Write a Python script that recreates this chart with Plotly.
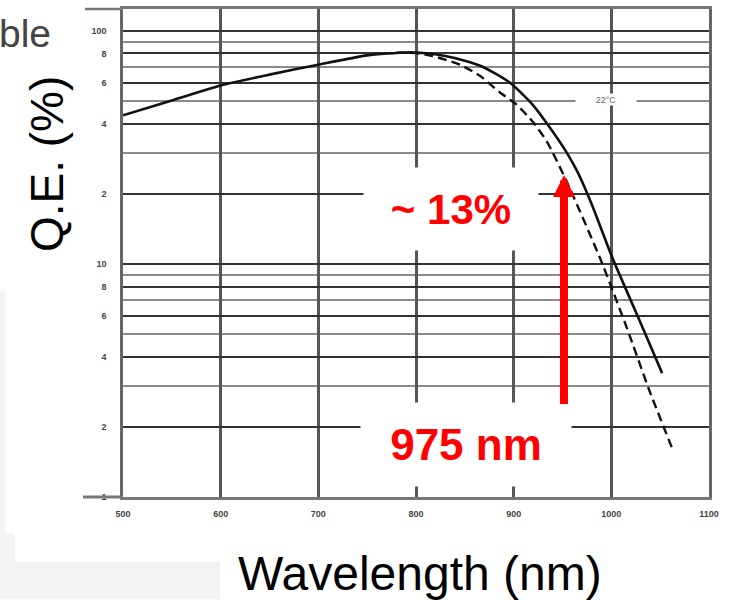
import plotly.graph_objects as go
import math

# ---- data ----
solid_nm = [500, 550, 600, 650, 700, 750, 790, 810, 830, 850, 865, 880, 896, 910, 920, 937, 954, 965, 980, 1000, 1011, 1029, 1052]
solid_qe = [43.4, 50.3, 58.3, 64.9, 71.6, 78.5, 80.8, 80.2, 78.0, 74.5, 71.0, 66.0, 60.0, 53.0, 47.9, 38.5, 30.2, 25.0, 18.0, 10.9, 8.5, 5.7, 3.4]

dashed_nm = [780, 800, 817, 845, 865, 886, 903, 920, 934, 953, 988, 1016, 1039, 1063]
dashed_qe = [80.5, 80.3, 78.0, 71.6, 64.3, 54.4, 48.3, 40.5, 33.5, 23.2, 10.7, 5.3, 2.86, 1.59]

x_ticks = [500, 600, 700, 800, 900, 1000, 1100]
y_major = [1, 2, 4, 6, 8, 10, 20, 40, 60, 80, 100]
y_major_text = ["1", "2", "4", "6", "8", "10", "2", "4", "6", "8", "100"]
y_minor = [3, 5, 7, 9, 30, 50, 70, 90]

arrow_nm = 951.5
arrow_tip_qe = 24.1
arrow_tail_qe = 2.47

# ---- layout geometry (pixels) ----
W, H = 740, 600
L, R, T, B = 123, 709, 6, 497
pw, ph = R - L, B - T


def px(x):
    return (x - L) / pw


def py(y):
    return (B - y) / ph


fig = go.Figure()
fig.add_trace(go.Scatter(x=solid_nm, y=solid_qe, mode="lines", line_shape="spline",
                         line=dict(color="#111", width=2.6, smoothing=0.6), showlegend=False))
fig.add_trace(go.Scatter(x=dashed_nm, y=dashed_qe, mode="lines", line_shape="spline",
                         line=dict(color="#111", width=2.4, dash="9px,5px", smoothing=0.6),
                         showlegend=False))

tick_font = dict(family="Liberation Sans", size=9, color="#444", weight="bold")

fig.update_xaxes(range=[500, 1100], tickvals=x_ticks, showgrid=True, gridcolor="#555",
                 gridwidth=2.5, showline=True, linecolor="#777", linewidth=3, mirror=True,
                 zeroline=False, ticks="", tickfont=tick_font, ticklabelstandoff=6)
fig.update_yaxes(type="log", range=[0, (B - T) / 234.5], tickvals=y_major, ticktext=y_major_text,
                 showgrid=True, gridcolor="#333", gridwidth=2, showline=True, linecolor="#666",
                 linewidth=2.5, mirror=True, zeroline=False, ticks="", tickfont=tick_font,
                 ticklabelstandoff=12,
                 minor=dict(tickvals=y_minor, showgrid=True, gridcolor="#8a8a8a", gridwidth=2))

shapes = [
    # grey page background pieces at lower left
    dict(type="rect", xref="paper", yref="paper", x0=px(0), x1=px(5), y0=py(533), y1=py(290),
         fillcolor="#f3f3f3", line_width=0, layer="below"),
    dict(type="rect", xref="paper", yref="paper", x0=px(0), x1=px(15), y0=py(562), y1=py(533),
         fillcolor="#f3f3f3", line_width=0, layer="below"),
    dict(type="rect", xref="paper", yref="paper", x0=px(0), x1=px(220), y0=py(600), y1=py(562),
         fillcolor="#f3f3f3", line_width=0, layer="below"),
    # bottom axis extension to the left
    dict(type="line", xref="paper", yref="paper", x0=px(83), x1=px(123), y0=0, y1=0,
         line=dict(color="#777", width=3)),
    # top frame extension
    dict(type="line", xref="paper", yref="paper", x0=px(85), x1=px(123), y0=1, y1=1,
         line=dict(color="#777", width=2.5)),
]


def label(text, x, y, **kw):
    d = dict(text=text, xref="paper", yref="paper", x=px(x), y=py(y),
             xanchor="center", yanchor="middle", showarrow=False)
    d.update(kw)
    return d


annotations = [
    label("ble", -3, 31, xanchor="left",
          font=dict(family="Liberation Sans", size=39, color="#444")),
    label("Q.E. (%)", 47, 162, textangle=-90,
          font=dict(family="Liberation Sans", size=46, color="#000")),
    label("Wavelength (nm)", 420, 574,
          font=dict(family="Liberation Sans", size=48, color="#000")),
    label("22°C", 606, 97, bgcolor="white", width=58, height=9,
          font=dict(family="Liberation Sans", size=9, color="#666")),
    label("~ 13%", 451, 207, bgcolor="white", width=172, height=80,
          font=dict(family="Liberation Sans", size=42, color="#ff0000", weight="bold")),
    label("975 nm", 466, 444.5, bgcolor="white", width=208, height=81,
          font=dict(family="Liberation Sans", size=44, color="#ff0000", weight="bold")),
    dict(text="", x=arrow_nm, y=math.log10(arrow_tip_qe), xref="x", yref="y",
         ax=arrow_nm, ay=math.log10(arrow_tail_qe), axref="x", ayref="y",
         showarrow=True, arrowhead=2, arrowsize=0.55, arrowwidth=8, arrowcolor="#ff0000"),
]

fig.update_layout(width=W, height=H, margin=dict(l=L, r=W - R, t=T, b=H - B),
                  paper_bgcolor="white", plot_bgcolor="white",
                  shapes=shapes, annotations=annotations, showlegend=False)

fig.write_html("out.html")
